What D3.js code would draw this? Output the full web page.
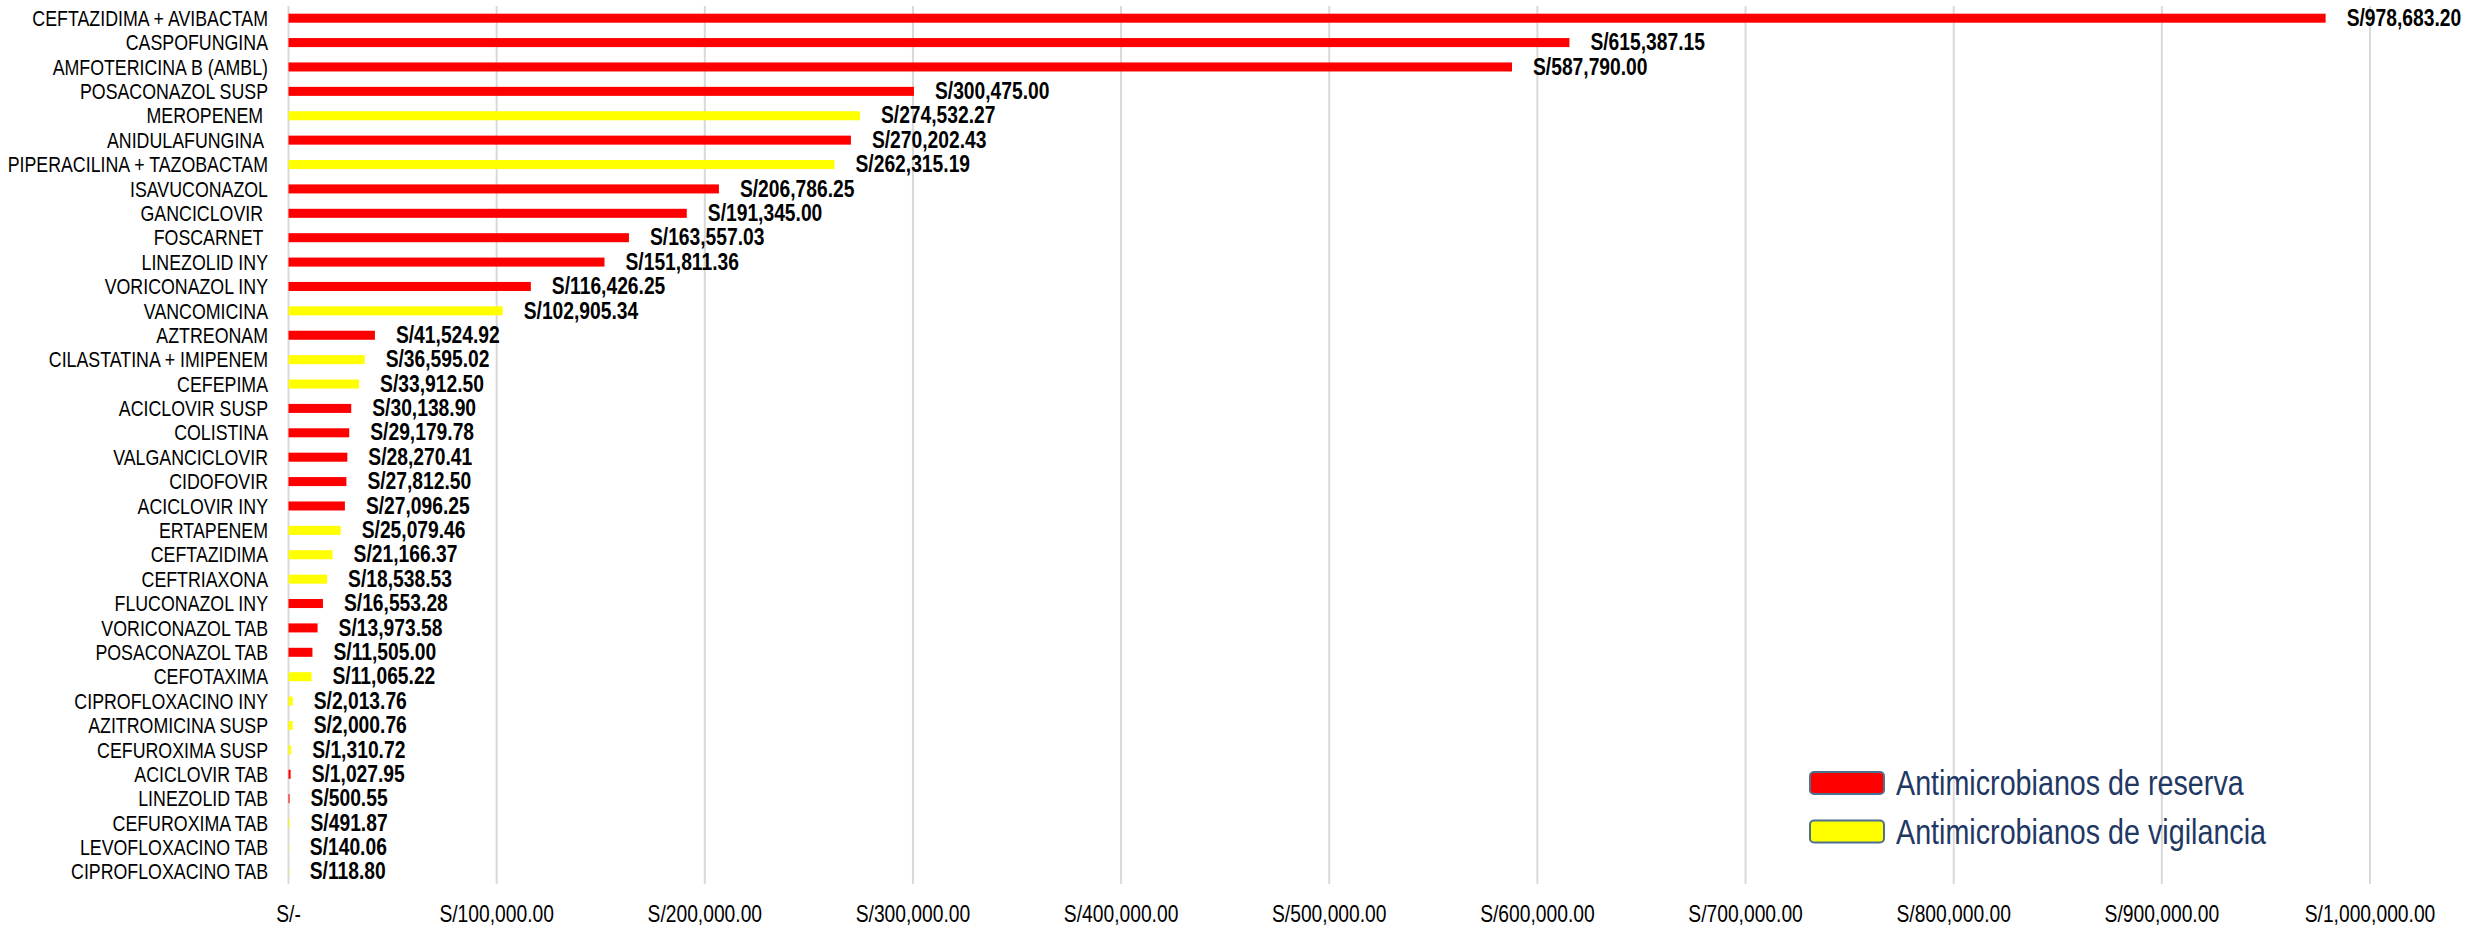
<!DOCTYPE html>
<html>
<head>
  <meta charset="UTF-8">
  <title>Costo de antimicrobianos</title>
  <style>
    body { margin: 0; background: #fff; }
    svg { display: block; }
    text { font-family: "Liberation Sans", Arial, sans-serif; }
    .cat { font-size: 21.7px; fill: #000; white-space: pre; }
    .val { font-size: 23.5px; font-weight: bold; fill: #000; }
    .tick-label { font-size: 23.5px; fill: #000; }
    .legend text { font-size: 35px; fill: #1f3864; }
  </style>
</head>
<body>
  <svg></svg>
  <script src="https://d3js.org/d3.v7.min.js"></script>
  <script>
    // data
    const drugs = [
      "CEFTAZIDIMA + AVIBACTAM", "CASPOFUNGINA", "AMFOTERICINA B (AMBL)", "POSACONAZOL SUSP",
      "MEROPENEM ", "ANIDULAFUNGINA ", "PIPERACILINA + TAZOBACTAM", "ISAVUCONAZOL",
      "GANCICLOVIR ", "FOSCARNET ", "LINEZOLID INY", "VORICONAZOL INY", "VANCOMICINA",
      "AZTREONAM", "CILASTATINA + IMIPENEM", "CEFEPIMA", "ACICLOVIR SUSP", "COLISTINA",
      "VALGANCICLOVIR", "CIDOFOVIR", "ACICLOVIR INY", "ERTAPENEM", "CEFTAZIDIMA",
      "CEFTRIAXONA", "FLUCONAZOL INY", "VORICONAZOL TAB", "POSACONAZOL TAB", "CEFOTAXIMA",
      "CIPROFLOXACINO INY", "AZITROMICINA SUSP", "CEFUROXIMA SUSP", "ACICLOVIR TAB",
      "LINEZOLID TAB", "CEFUROXIMA TAB", "LEVOFLOXACINO TAB", "CIPROFLOXACINO TAB"
    ];
    const costs = [
      978683.20, 615387.15, 587790.00, 300475.00, 274532.27, 270202.43, 262315.19, 206786.25,
      191345.00, 163557.03, 151811.36, 116426.25, 102905.34, 41524.92, 36595.02, 33912.50,
      30138.90, 29179.78, 28270.41, 27812.50, 27096.25, 25079.46, 21166.37, 18538.53,
      16553.28, 13973.58, 11505.00, 11065.22, 2013.76, 2000.76, 1310.72, 1027.95,
      500.55, 491.87, 140.06, 118.80
    ];
    // R = reserva, V = vigilancia
    const groups = [
      "R", "R", "R", "R", "V", "R", "V", "R", "R", "R", "R", "R", "V", "R", "V", "V",
      "R", "R", "R", "R", "R", "V", "V", "V", "R", "R", "R", "V", "V", "V", "V", "R",
      "R", "V", "V", "V"
    ];
    const groupKeys = ["R", "V"];
    const groupNames = ["Antimicrobianos de reserva", "Antimicrobianos de vigilancia"];
    const groupColors = ["#ff0000", "#ffff00"];
    const tickValues = [0, 100000, 200000, 300000, 400000, 500000, 600000, 700000, 800000, 900000, 1000000];

    const width = 2478, height = 927;
    const narrow = 0.82; // no narrow font installed, squeeze the text instead
    const svg = d3.select("svg").attr("width", width).attr("height", height);

    const x = d3.scaleLinear().domain([0, 1000000]).range([288.5, 2370]);
    const y = d3.scaleBand().domain(drugs).range([6, 884]).paddingInner(0.63).paddingOuter(0.315);
    const color = d3.scaleOrdinal().domain(groupKeys).range(groupColors);
    const money = d3.format(",.2f");
    const at = (px, py) => `translate(${px},${py}) scale(${narrow},1)`;

    // gridlines
    svg.append("g")
      .selectAll("line")
      .data(tickValues)
      .join("line")
      .attr("x1", d => x(d)).attr("x2", d => x(d))
      .attr("y1", 6).attr("y2", 884)
      .attr("stroke", "#d9d9d9")
      .attr("stroke-width", 2);

    // axis labels
    svg.append("g")
      .selectAll("text")
      .data(tickValues)
      .join("text")
      .attr("class", "tick-label")
      .attr("transform", d => at(x(d), 914))
      .attr("text-anchor", "middle")
      .attr("dominant-baseline", "central")
      .text(d => d === 0 ? "S/-" : "S/" + money(d));

    const rows = drugs.map((d, i) => ({ name: d, cost: costs[i], group: groups[i] }));

    // bars
    svg.append("g")
      .selectAll("rect")
      .data(rows)
      .join("rect")
      .attr("x", x(0))
      .attr("y", d => y(d.name))
      .attr("width", d => x(d.cost) - x(0))
      .attr("height", y.bandwidth())
      .attr("fill", d => color(d.group));

    // category labels
    svg.append("g")
      .selectAll("text")
      .data(rows)
      .join("text")
      .attr("class", "cat")
      .attr("transform", d => at(268, y(d.name) + y.bandwidth() / 2))
      .attr("text-anchor", "end")
      .attr("dominant-baseline", "central")
      .text(d => d.name);

    // value labels
    svg.append("g")
      .selectAll("text")
      .data(rows)
      .join("text")
      .attr("class", "val")
      .attr("transform", d => at(x(d.cost) + 21, y(d.name) + y.bandwidth() / 2))
      .attr("dominant-baseline", "central")
      .text(d => "S/" + money(d.cost));

    // legend
    const legend = svg.append("g").attr("class", "legend")
      .selectAll("g")
      .data(groupKeys)
      .join("g")
      .attr("transform", (d, i) => `translate(1810, ${772 + i * 48.5})`);
    legend.append("rect")
      .attr("width", 74).attr("height", 22)
      .attr("rx", 4)
      .attr("fill", d => color(d))
      .attr("stroke", "#4f6f8f")
      .attr("stroke-width", 2);
    legend.append("text")
      .attr("transform", at(86, 11))
      .attr("dominant-baseline", "central")
      .text((d, i) => groupNames[i]);
  </script>
</body>
</html>
